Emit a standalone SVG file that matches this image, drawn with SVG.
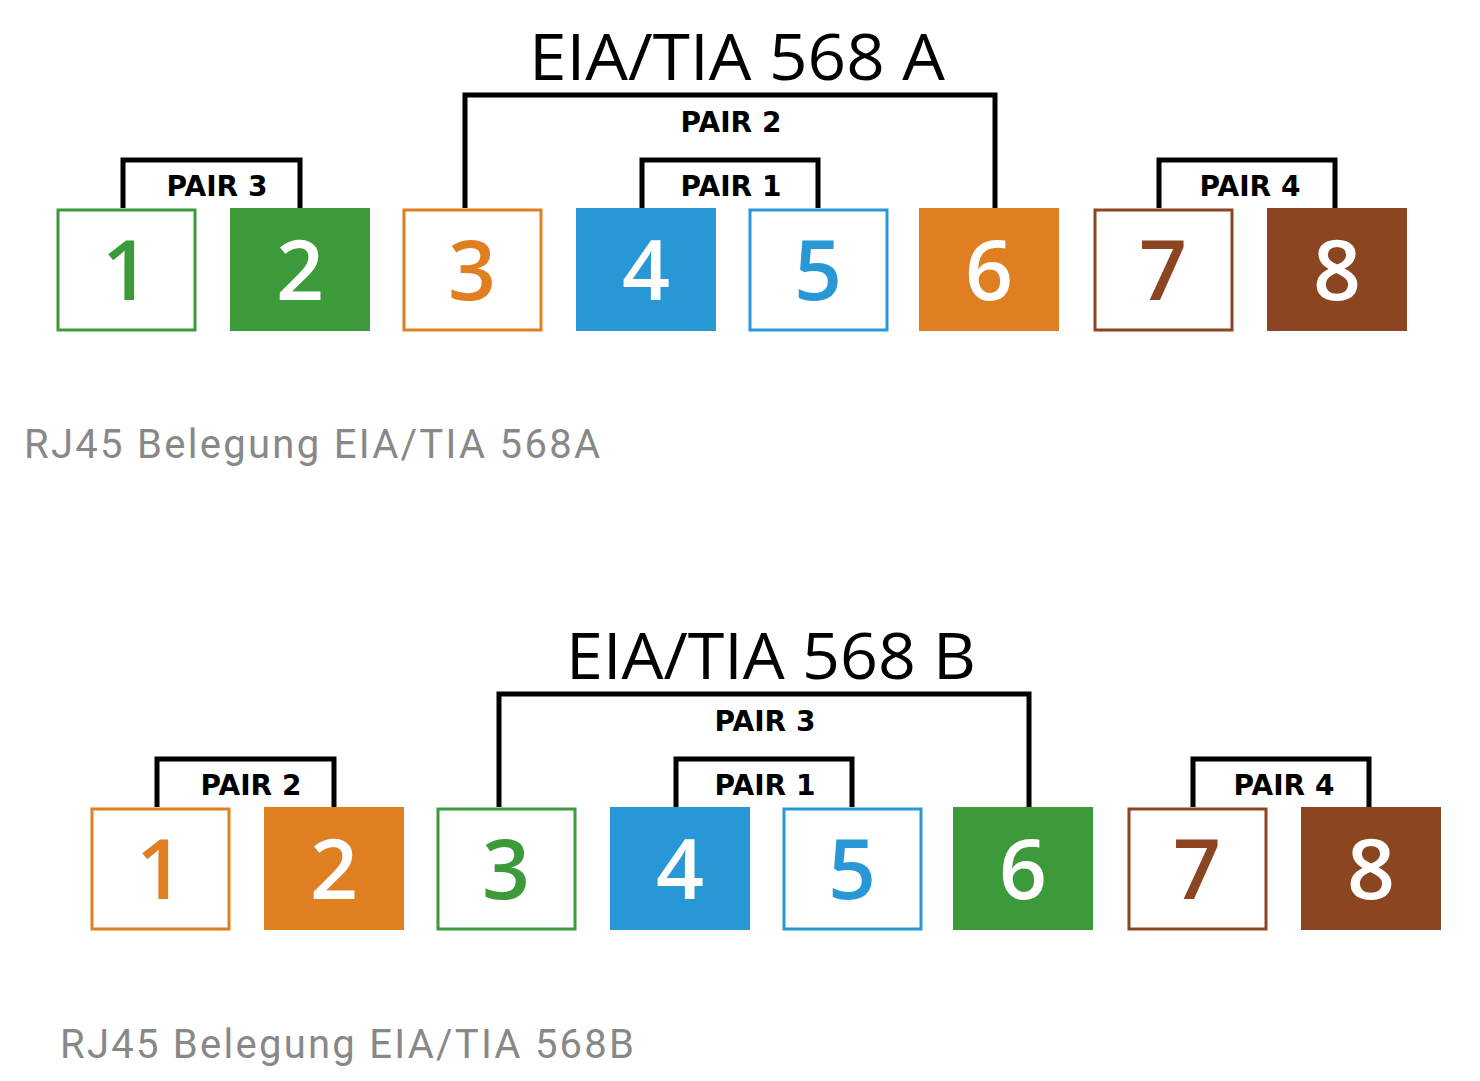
<svg xmlns="http://www.w3.org/2000/svg" width="1480" height="1081" viewBox="0 0 1480 1081">
<style>
.bg{fill:#fff}
.o{fill:#fff;stroke-width:3}
.d{font-family:"Open Sans","DejaVu Sans",sans-serif;font-size:84px;font-weight:600;text-anchor:middle}
.br{fill:none;stroke:#000;stroke-width:5}
.pl{font-family:"DejaVu Sans",sans-serif;font-weight:bold;font-size:28px;text-anchor:middle}
.t{font-family:"Open Sans","DejaVu Sans",sans-serif;font-size:64px;text-anchor:middle}
.c{font-family:Roboto,"Liberation Sans",sans-serif;font-size:40px;fill:#888}
</style>
<rect class="bg" width="1480" height="1081"/>
<g id="a">
<text class="t" x="737" y="80" textLength="416" lengthAdjust="spacingAndGlyphs">EIA/TIA 568 A</text>
<g id="a-conn">
<path class="br" d="M123 208V160H300V208"/>
<path class="br" d="M465 208V95H995V208"/>
<path class="br" d="M642 208V160H818V208"/>
<path class="br" d="M1159 208V160H1335V208"/>
</g>
<text class="pl" x="217" y="196">PAIR 3</text>
<text class="pl" x="731" y="132">PAIR 2</text>
<text class="pl" x="731" y="196">PAIR 1</text>
<text class="pl" x="1250" y="196">PAIR 4</text>
<g id="a1"><rect class="o" x="58" y="210" width="137" height="120" stroke="#3d9a3a"/><text class="d" x="126" y="300" fill="#3d9a3a">1</text></g>
<g id="a2"><rect x="230" y="208" width="140" height="123" fill="#3d9a3a"/><text class="d" x="300" y="300" fill="#fff">2</text></g>
<g id="a3"><rect class="o" x="404" y="210" width="137" height="120" stroke="#e07f22"/><text class="d" x="472" y="300" fill="#e07f22">3</text></g>
<g id="a4"><rect x="576" y="208" width="140" height="123" fill="#2897d5"/><text class="d" x="646" y="300" fill="#fff">4</text></g>
<g id="a5"><rect class="o" x="750" y="210" width="137" height="120" stroke="#2897d5"/><text class="d" x="818" y="300" fill="#2897d5">5</text></g>
<g id="a6"><rect x="919" y="208" width="140" height="123" fill="#e07f22"/><text class="d" x="989" y="300" fill="#fff">6</text></g>
<g id="a7"><rect class="o" x="1095" y="210" width="137" height="120" stroke="#8b4521"/><text class="d" x="1163" y="300" fill="#8b4521">7</text></g>
<g id="a8"><rect x="1267" y="208" width="140" height="123" fill="#8b4521"/><text class="d" x="1337" y="300" fill="#fff">8</text></g>
<text class="c" x="24" y="458" textLength="576" lengthAdjust="spacing">RJ45 Belegung EIA/TIA 568A</text>
</g>
<g id="b" transform="translate(34,599)">
<text class="t" x="737" y="80" textLength="410" lengthAdjust="spacingAndGlyphs">EIA/TIA 568 B</text>
<g id="b-conn">
<path class="br" d="M123 208V160H300V208"/>
<path class="br" d="M465 208V95H995V208"/>
<path class="br" d="M642 208V160H818V208"/>
<path class="br" d="M1159 208V160H1335V208"/>
</g>
<text class="pl" x="217" y="196">PAIR 2</text>
<text class="pl" x="731" y="132">PAIR 3</text>
<text class="pl" x="731" y="196">PAIR 1</text>
<text class="pl" x="1250" y="196">PAIR 4</text>
<g id="b1"><rect class="o" x="58" y="210" width="137" height="120" stroke="#e07f22"/><text class="d" x="126" y="300" fill="#e07f22">1</text></g>
<g id="b2"><rect x="230" y="208" width="140" height="123" fill="#e07f22"/><text class="d" x="300" y="300" fill="#fff">2</text></g>
<g id="b3"><rect class="o" x="404" y="210" width="137" height="120" stroke="#3d9a3a"/><text class="d" x="472" y="300" fill="#3d9a3a">3</text></g>
<g id="b4"><rect x="576" y="208" width="140" height="123" fill="#2897d5"/><text class="d" x="646" y="300" fill="#fff">4</text></g>
<g id="b5"><rect class="o" x="750" y="210" width="137" height="120" stroke="#2897d5"/><text class="d" x="818" y="300" fill="#2897d5">5</text></g>
<g id="b6"><rect x="919" y="208" width="140" height="123" fill="#3d9a3a"/><text class="d" x="989" y="300" fill="#fff">6</text></g>
<g id="b7"><rect class="o" x="1095" y="210" width="137" height="120" stroke="#8b4521"/><text class="d" x="1163" y="300" fill="#8b4521">7</text></g>
<g id="b8"><rect x="1267" y="208" width="140" height="123" fill="#8b4521"/><text class="d" x="1337" y="300" fill="#fff">8</text></g>
<text class="c" x="26" y="459" textLength="574" lengthAdjust="spacing">RJ45 Belegung EIA/TIA 568B</text>
</g>
</svg>
